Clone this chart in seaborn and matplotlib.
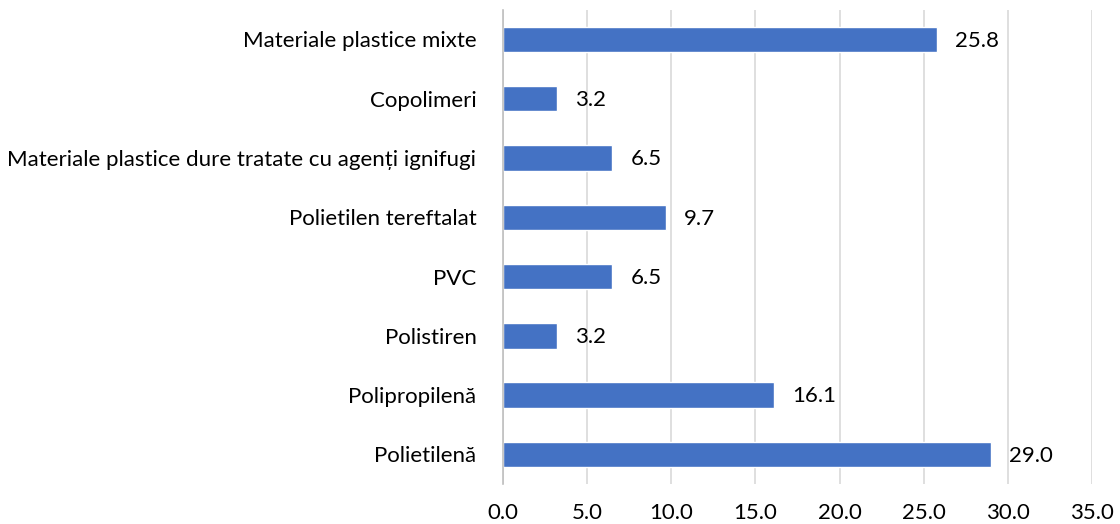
import matplotlib
matplotlib.use("Agg")
import matplotlib.pyplot as plt
import seaborn as sns
import pandas as pd
import numpy as np

# date din grafic (de sus in jos)
categorii = [
    "Materiale plastice mixte",
    "Copolimeri",
    "Materiale plastice dure tratate cu agenți ignifugi",
    "Polietilen tereftalat",
    "PVC",
    "Polistiren",
    "Polipropilenă",
    "Polietilenă",
]
valori = [25.8, 3.2, 6.5, 9.7, 6.5, 3.2, 16.1, 29.0]
x_ticks = [0, 5, 10, 15, 20, 25, 30, 35]

df = pd.DataFrame({"categorie": categorii, "valoare": valori})

sns.set_style("white")
plt.rcParams["font.family"] = ["Lato", "DejaVu Sans"]

fig = plt.figure(figsize=(11.2, 5.24), dpi=100)
ax = fig.add_axes([0.449, 0.0763, 0.526, 0.905])

sns.barplot(data=df, x="valoare", y="categorie", order=categorii,
            color="#4472C4", saturation=1, width=0.43, ax=ax)

for i, v in enumerate(valori):
    ax.annotate(f"{v:.1f}", xy=(v, i), xytext=(13, -1), textcoords="offset points",
                va="center", ha="left", fontsize=16, color="#000000")

ax.set_xlim(0, 35)
ax.set_ylim(len(categorii) - 0.5, -0.5)
ax.set_xticks(x_ticks)
ax.set_xticklabels([f"{t:.1f}" for t in x_ticks])
ax.xaxis.grid(True, color="#D9D9D9", linewidth=1.2)
ax.set_axisbelow(True)
ax.set_xlabel("")
ax.set_ylabel("")

for s in ["top", "right", "bottom"]:
    ax.spines[s].set_visible(False)
ax.spines["left"].set_color("#BFBFBF")
ax.spines["left"].set_linewidth(1.2)

ax.set_yticks(np.arange(-0.5, len(categorii), 1), minor=True)
ax.tick_params(axis="y", which="minor", length=8, color="#BFBFBF", width=1.2)
ax.tick_params(axis="y", which="major", length=0, pad=19, labelsize=16, labelcolor="#000000")
ax.tick_params(axis="x", length=0, pad=14, labelsize=16, labelcolor="#000000")

fig.savefig("out.png", dpi=100)
